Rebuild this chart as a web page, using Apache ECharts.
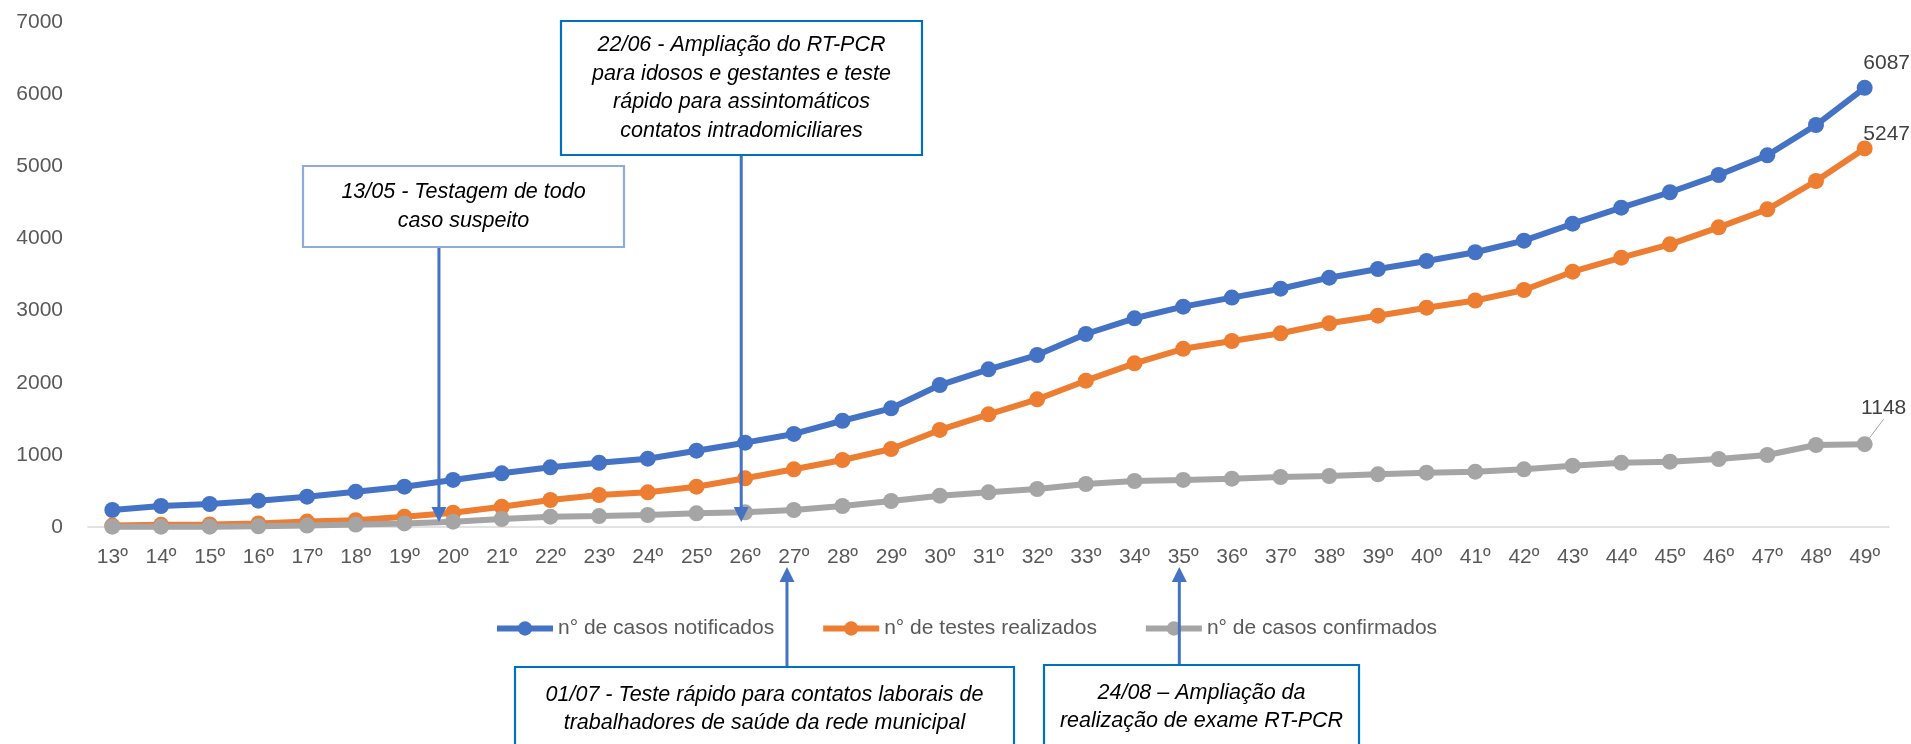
<!DOCTYPE html>
<html><head><meta charset="utf-8">
<script src="https://cdn.jsdelivr.net/npm/echarts@6/dist/echarts.min.js"></script>
<style>html,body{margin:0;padding:0;background:#fff}#c{width:1911px;height:744px}</style>
</head><body><div id="c"></div>
<script>
const weeks = ['13º','14º','15º','16º','17º','18º','19º','20º','21º','22º','23º','24º','25º','26º','27º','28º','29º','30º','31º','32º','33º','34º','35º','36º','37º','38º','39º','40º','41º','42º','43º','44º','45º','46º','47º','48º','49º'];
const notificados = [236,291,319,365,420,490,559,652,744,827,891,947,1058,1169,1290,1473,1645,1968,2186,2384,2675,2893,3054,3180,3303,3456,3576,3687,3808,3969,4204,4426,4640,4879,5152,5572,6087];
const testes = [20,30,35,50,75,95,143,198,281,374,444,481,559,675,800,929,1081,1345,1562,1770,2028,2269,2470,2578,2685,2824,2929,3040,3140,3285,3539,3733,3918,4154,4404,4796,5247];
const confirmados = [5,5,5,10,20,35,50,74,111,143,152,166,189,203,236,291,360,434,481,527,596,638,652,670,693,707,730,753,767,800,850,891,905,943,998,1137,1148];
const seriesNames = ['n° de casos notificados','n° de testes realizados','n° de casos confirmados'];
const yTicks = {min:0, max:7000, interval:1000};

const annotTexts = [
  '13/05 - Testagem de todo\ncaso suspeito',
  '22/06 - Ampliação do RT-PCR\npara idosos e gestantes e teste\nrápido para assintomáticos\ncontatos intradomiciliares',
  '01/07 - Teste rápido para contatos laborais de\ntrabalhadores de saúde da rede municipal',
  '24/08 – Ampliação da\nrealização de exame RT-PCR'
];
// annotation layout (pixels) and arrow anchor (fractional category index)
const annotLayout = [
  {x:303, y:166, w:321, h:81, stroke:'#8FAADC', at:6.71, dir:'down'},
  {x:561, y:21, w:361, h:134, stroke:'#0070C0', at:12.92, dir:'down'},
  {x:515, y:667, w:499, h:110, stroke:'#0070C0', at:13.86, dir:'up'},
  {x:1044, y:665, w:315, h:110, stroke:'#0070C0', at:21.92, dir:'up'}
];

const FONT = '"Liberation Sans", Arial, sans-serif';
const colors = ['#4472C4','#ED7D31','#A5A5A5'];
const chart = echarts.init(document.getElementById('c'), null, {renderer:'canvas'});

function withEndLabel(arr, labelOpt){
  return arr.map((v,i)=> i===arr.length-1 ? {value:v, label:Object.assign({show:true}, labelOpt)} : v);
}
const labelBase = {position:'top', color:'#404040', fontSize:21, fontFamily:FONT};

chart.setOption({
  animation:false,
  color: colors,
  grid:{left:88, right:22, top:22, bottom:217, containLabel:false},
  legend:{
    data: seriesNames, top:613, left:489, itemWidth:56, itemHeight:18, itemGap:46,
    lineStyle:{width:6},
    textStyle:{color:'#595959', fontSize:21, fontFamily:FONT}
  },
  xAxis:{
    type:'category', data:weeks, boundaryGap:true,
    axisLine:{lineStyle:{color:'#D9D9D9', width:1.5}},
    axisTick:{show:false},
    axisLabel:{interval:0, color:'#595959', fontSize:21, fontFamily:FONT, margin:20}
  },
  yAxis:{
    type:'value', min:yTicks.min, max:yTicks.max, interval:yTicks.interval,
    axisLine:{show:false}, axisTick:{show:false}, splitLine:{show:false},
    axisLabel:{color:'#595959', fontSize:21, fontFamily:FONT, margin:25, formatter:(v)=>String(v)}
  },
  series:[
    {name:seriesNames[0], type:'line', symbol:'circle', symbolSize:16, lineStyle:{width:6}, itemStyle:{color:colors[0]},
     data: withEndLabel(notificados, Object.assign({}, labelBase, {offset:[22,-1]}))},
    {name:seriesNames[1], type:'line', symbol:'circle', symbolSize:16, lineStyle:{width:6}, itemStyle:{color:colors[1]},
     data: withEndLabel(testes, Object.assign({}, labelBase, {offset:[22,9]}))},
    {name:seriesNames[2], type:'line', symbol:'circle', symbolSize:16, lineStyle:{width:6}, itemStyle:{color:colors[2]},
     labelLine:{show:true, lineStyle:{color:'#A5A5A5', width:1}},
     labelLayout:{dx:19, dy:-12},
     data: withEndLabel(confirmados, labelBase)}
  ]
});

// annotations anchored to the category axis
const x0 = chart.convertToPixel({xAxisIndex:0}, 0);
const x1 = chart.convertToPixel({xAxisIndex:0}, 1);
const step = x1 - x0;
const yZero = chart.convertToPixel({yAxisIndex:0}, 0);
const arrowColor = '#4472C4';
const graphics = [];
annotLayout.forEach((a, i) => {
  graphics.push({type:'rect', shape:{x:a.x, y:a.y, width:a.w, height:a.h},
    style:{fill:'#fff', stroke:a.stroke, lineWidth:2.2}, z:100});
  const cy = a.dir==='down' ? a.y + a.h/2 : a.y + 42;
  graphics.push({type:'text', z:101, style:{text:annotTexts[i], x:a.x + a.w/2, y:cy,
    align:'center', verticalAlign:'middle', fontSize:21.5, fontStyle:'italic', fontFamily:FONT,
    fill:'#000', lineHeight:28.5}});
  const ax = x0 + a.at*step;
  let yStart, yTip, dirSign;
  if (a.dir==='down'){ yStart = a.y + a.h; yTip = yZero - 5; dirSign = 1; }
  else { yStart = a.y; yTip = yZero + 40; dirSign = -1; }
  const headLen = 15, headW = 7.5;
  graphics.push({type:'line', z:99, shape:{x1:ax, y1:yStart, x2:ax, y2:yTip - dirSign*headLen},
    style:{stroke:arrowColor, lineWidth:3}});
  graphics.push({type:'polygon', z:99, shape:{points:[[ax, yTip],[ax-headW, yTip-dirSign*headLen],[ax+headW, yTip-dirSign*headLen]]},
    style:{fill:arrowColor}});
});
chart.setOption({graphic:graphics});
</script>
</body></html>
